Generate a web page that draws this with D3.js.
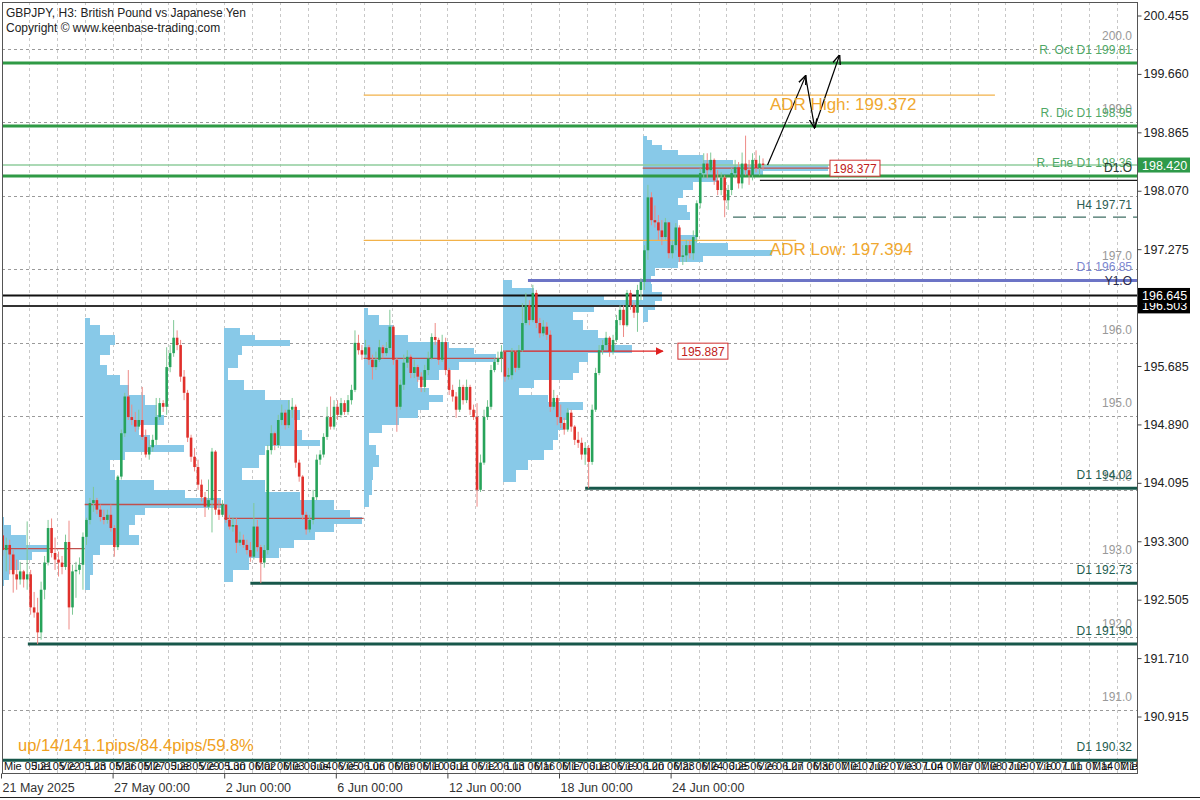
<!DOCTYPE html>
<html><head><meta charset="utf-8">
<script src="https://cdnjs.cloudflare.com/ajax/libs/d3/7.8.5/d3.min.js"></script>
<style>body{margin:0;background:#fff}svg{display:block}text{font-family:"Liberation Sans",Arial,sans-serif}</style>
</head><body><svg id="c" width="1200" height="800"></svg>
<script>
// ---------------- DATA ----------------
const firstOpen = 193.38;
const closes = [
193.18,193.25,193.12,192.85,192.78,192.89,192.78,192.85,192.40,192.33,
192.06,192.64,193.01,193.48,193.14,193.05,193.01,192.95,193.29,192.40,
192.89,192.91,192.98,193.36,193.59,193.82,193.86,193.73,193.63,193.59,
193.66,193.48,193.22,194.18,194.77,195.27,194.99,194.95,194.86,194.95,
194.72,194.48,194.58,194.68,194.99,195.18,195.13,195.67,195.86,196.07,
195.97,195.54,195.32,194.71,194.45,194.31,194.07,193.90,193.77,193.86,
194.52,193.73,193.66,193.80,193.59,193.50,193.52,193.28,193.32,193.25,
193.18,193.09,193.50,193.22,193.01,193.18,194.54,194.77,194.61,194.95,
195.05,194.88,195.09,195.13,194.37,194.18,193.66,193.46,193.59,193.90,
194.41,194.48,194.72,194.99,194.86,195.13,195.02,195.18,195.06,195.22,
195.36,196.00,195.90,195.84,195.94,195.77,195.67,195.77,195.94,195.86,
195.93,196.22,195.77,195.13,195.43,195.73,195.81,195.59,195.67,195.54,
195.40,195.63,195.79,196.08,196.04,195.77,196.01,195.63,195.36,195.27,
195.09,195.40,195.22,195.40,195.09,194.99,194.00,194.37,194.99,195.13,
195.63,195.74,195.79,195.88,195.54,195.56,195.88,195.66,195.90,196.27,
196.51,196.31,196.68,196.27,196.13,196.22,196.11,195.13,195.25,194.99,
194.91,194.82,195.05,194.86,194.68,194.64,194.48,194.57,194.38,195.09,
195.59,195.90,195.97,196.07,195.88,196.04,196.31,196.45,196.24,196.68,
196.51,196.41,196.72,196.83,197.26,197.98,197.67,197.64,197.53,197.44,
197.64,197.22,197.33,197.57,197.17,197.19,197.33,197.22,197.44,197.90,
198.31,198.44,198.35,198.49,198.21,198.08,198.25,197.94,198.08,198.31,
198.39,198.17,198.44,198.35,198.28,198.49,198.38,198.44,198.42];
const highs = [
193.46,193.35,193.32,193.18,193.05,193.02,192.91,193.57,192.91,192.61,
192.53,192.75,193.10,193.59,193.61,193.35,193.16,193.10,193.39,193.58,
192.98,193.02,193.08,193.42,193.62,193.89,194.04,193.89,193.80,193.73,
193.73,193.80,193.52,194.20,194.82,195.32,195.63,195.16,195.06,195.09,
195.40,194.82,194.68,194.75,195.25,195.25,195.22,195.94,195.97,196.31,
196.17,196.04,195.63,195.36,194.75,194.57,194.41,194.14,193.97,194.14,
194.57,194.54,193.86,193.86,193.76,193.66,193.62,193.62,193.43,193.39,
193.32,193.29,193.82,193.59,193.25,193.25,194.61,194.88,194.79,195.02,
195.16,195.09,195.22,195.25,195.16,194.41,194.20,193.70,193.66,194.00,
194.48,194.54,194.77,195.13,195.27,195.22,195.22,195.25,195.22,195.29,
195.43,196.17,196.11,195.97,196.04,195.97,195.84,195.88,196.04,195.97,
196.01,196.45,196.24,195.80,195.50,195.84,195.90,195.84,195.77,195.70,
195.60,195.70,195.88,196.13,196.27,196.07,196.11,196.07,195.66,195.43,
195.33,195.50,195.43,195.50,195.43,195.16,195.18,194.48,195.09,195.22,
195.70,195.79,195.88,195.97,195.90,195.66,195.93,195.90,195.97,196.54,
196.68,196.58,196.79,196.72,196.34,196.31,196.28,196.17,195.36,195.29,
195.16,194.98,195.11,195.09,194.88,194.79,194.71,194.65,194.61,195.16,
195.66,195.97,196.04,196.15,196.09,196.11,196.38,196.51,196.51,196.72,
196.72,196.55,196.79,196.88,197.33,198.15,198.05,197.87,197.74,197.67,
197.70,197.60,197.40,197.63,197.60,197.33,197.40,197.40,197.53,197.94,
198.38,198.58,198.58,198.59,198.51,198.35,198.32,198.28,198.15,198.38,
198.49,198.46,198.59,198.82,198.49,198.58,198.62,198.55,198.51];
const lows = [
193.10,192.89,192.85,192.60,192.64,192.71,192.67,192.64,192.30,192.26,
191.90,191.96,192.51,192.97,193.08,192.91,192.82,192.85,192.91,192.10,
192.30,192.53,192.85,192.64,193.25,193.53,193.70,193.67,193.57,193.53,
193.54,193.43,193.09,193.18,194.14,194.72,194.95,194.88,194.79,194.82,
194.68,194.44,194.41,194.52,194.61,194.95,195.06,195.02,195.60,195.81,
195.90,195.47,195.22,194.65,194.38,194.25,194.00,193.84,193.63,193.73,
193.42,193.66,193.59,193.63,193.55,193.46,193.43,193.14,193.24,193.21,
193.12,193.02,193.05,193.16,192.73,192.94,193.12,194.48,194.54,194.57,
194.88,194.82,194.84,194.98,194.30,194.11,193.59,193.39,193.42,193.53,
193.86,194.34,194.44,194.68,194.82,194.82,194.95,194.98,195.02,195.02,
195.16,195.33,195.84,195.77,195.79,195.70,195.50,195.63,195.74,195.79,
195.82,195.90,195.70,194.79,195.09,195.36,195.66,195.52,195.52,195.47,
195.33,195.33,195.56,195.77,195.97,195.70,195.74,195.56,195.29,195.20,
194.98,195.06,195.16,195.18,195.02,194.95,193.77,193.97,194.34,194.95,
195.09,195.60,195.70,195.60,195.47,195.50,195.50,195.60,195.63,195.88,
196.24,196.24,196.28,196.20,196.07,196.09,196.04,195.06,195.09,194.88,
194.84,194.75,194.79,194.79,194.61,194.57,194.41,194.34,194.02,194.34,
195.06,195.56,195.84,195.90,195.81,195.84,196.01,196.24,196.08,196.22,
196.45,196.34,196.15,196.58,196.72,197.13,197.60,197.57,197.40,197.33,
197.40,197.15,197.15,197.26,197.10,197.06,197.10,197.15,197.13,197.37,
197.83,198.24,198.24,198.32,198.15,198.01,198.01,197.71,197.81,198.01,
198.24,198.10,198.10,198.28,198.15,198.21,198.32,198.28,198.35];

// volume profiles: [price edge, volume] ; last entry closes the profile
const profile1 = [[193.63,2],[193.52,7],[193.39,18],[193.25,34],[193.16,22],[193.05,13],[192.91,6],[192.78,2],[192.70,0]];
const profile2 = [[196.34,4],[196.24,11],[196.11,22],[195.97,18],[195.84,11],[195.70,16],[195.56,25],[195.43,32],[195.29,43],[195.16,52],[195.02,57],[194.88,39],[194.75,47],[194.61,71],[194.52,29],[194.41,18],[194.27,22],[194.14,50],[194.00,72],[193.89,98],[193.76,43],[193.66,36],[193.52,32],[193.39,39],[193.25,11],[193.12,6],[192.85,4],[192.64,0]];
const profile3 = [[196.20,11],[196.11,22],[196.04,47],[195.96,13],[195.84,10],[195.66,3],[195.50,14],[195.36,29],[195.22,47],[195.09,54],[194.95,50],[194.82,56],[194.68,69],[194.60,29],[194.48,25],[194.30,13],[194.14,29],[193.97,54],[193.86,79],[193.73,90],[193.63,99],[193.54,79],[193.43,65],[193.32,50],[193.21,39],[193.08,18],[192.91,6],[192.75,0]];
const profile4 = [[196.47,3],[196.38,11],[196.24,22],[196.11,32],[196.01,61],[195.93,79],[195.85,95],[195.74,68],[195.63,54],[195.50,39],[195.39,47],[195.29,57],[195.20,47],[195.09,39],[194.98,25],[194.88,13],[194.78,4],[194.61,9],[194.48,11],[194.31,7],[194.14,6],[193.93,4],[193.77,0]];
const profile5 = [[196.85,6],[196.75,22],[196.65,72],[196.58,104],[196.50,65],[196.42,50],[196.31,57],[196.17,68],[196.07,75],[195.97,92],[195.86,61],[195.74,54],[195.60,50],[195.50,22],[195.39,11],[195.29,32],[195.20,57],[195.09,47],[194.95,43],[194.82,39],[194.68,36],[194.54,29],[194.41,18],[194.27,9],[194.11,0]];
const profile6 = [[198.82,3],[198.76,7],[198.69,14],[198.62,25],[198.55,43],[198.49,65],[198.42,133],[198.34,86],[198.27,54],[198.19,36],[198.08,29],[197.98,25],[197.87,32],[197.78,34],[197.67,25],[197.56,27],[197.47,39],[197.36,61],[197.26,93],[197.18,43],[197.10,25],[197.02,9],[196.91,6],[196.80,7],[196.69,14],[196.58,9],[196.45,4],[196.29,0]];
const profileStarts = [0,24,64,104,144,184];
const pocPrices = [193.20,193.80,193.61,195.79,195.887,198.377];
const pocEnds = [24,64,104,144,189.8,237.5];

// horizontal levels
const resLevels = [199.81,198.95];
const resLabels = ["R. Oct D1 199.81","R. Dic D1 198.95"];
const supLevels = [194.02,192.73,191.90,190.32];
const supLabels = ["D1 194.02","D1 192.73","D1 191.90","D1 190.32"];
const supStarts = [167.5,71.5,7.7,0];
const roundLevels = [200,199,198,197,196,195,194,193,192,191];
const roundLabels = ["200.0","199.0","","197.0","196.0","195.0","194.0","193.0","192.0","191.0"];
const bidPrice = 198.42, d1Open = 198.27, d1OpenBlack = 198.21, h4Level = 197.71, y1Open = 196.85;
const blackLevels = [196.645,196.503];
const adrHigh = 199.372, adrLow = 197.394;

// axes
const yTicks = [200.455,199.660,198.865,198.070,197.275,196.480,195.685,194.890,194.095,193.300,192.505,191.710,190.915];
const xTickBars = [0,32,64,96,128,160,192];
const xTickLabels = ["21 May 2025","27 May 00:00","2 Jun 00:00","6 Jun 00:00","12 Jun 00:00","18 Jun 00:00","24 Jun 00:00"];
const dayLabels = ["Mie 05.21","Jue 05.22","Vie 05.23","Lun 05.26","Mar 05.27","Mie 05.28","Jue 05.29","Vie 05.30","Lun 06.02","Mar 06.03","Mie 06.04","Jue 06.05","Vie 06.06","Lun 06.09","Mar 06.10","Mie 06.11","Jue 06.12","Vie 06.13","Lun 06.16","Mar 06.17","Mie 06.18","Jue 06.19","Vie 06.20","Lun 06.23","Mar 06.24","Mie 06.25","Jue 06.26","Vie 06.27","Lun 06.30","Mar 07.01","Mie 07.02","Jue 07.03","Vie 07.04","Lun 07.07","Mar 07.08","Mie 07.09","Jue 07.10","Vie 07.11","Lun 07.14","Mar 07.15","Mie 07.16"];
// projection arrows [bar, price]
const arrowPath = [[219.8,198.42],[230.7,199.63],[233.3,198.93],[240.4,199.91]];

// ---------------- DRAW ----------------
const svg = d3.select("#c");
const P = {l:2,t:2,r:1137,b:773};
const x = d3.scaleLinear().domain([0,320]).range([1,1117]);
const y = d3.scaleLinear().domain([190.915,200.455]).range([716.5,15.5]);
const vScale = d3.scaleLinear().domain([0,100]).range([0,x(40)-x(0)]);

const defs = svg.append("defs");
defs.append("clipPath").attr("id","clip").append("rect")
  .attr("x",P.l).attr("y",P.t).attr("width",P.r-P.l).attr("height",P.b-P.t);
defs.append("marker").attr("id","ah").attr("viewBox","0 0 10 10").attr("refX",9).attr("refY",5)
  .attr("markerWidth",8).attr("markerHeight",8).attr("orient","auto-start-reverse")
  .append("path").attr("d","M0,1 L10,5 L0,9").attr("fill","none").attr("stroke","#000").attr("stroke-width",1.4);
defs.append("marker").attr("id","rh").attr("viewBox","0 0 10 10").attr("refX",9).attr("refY",5)
  .attr("markerWidth",6).attr("markerHeight",6).attr("orient","auto")
  .append("path").attr("d","M0,0 L10,5 L0,10 Z").attr("fill","#e02020");

const g = svg.append("g").attr("clip-path","url(#clip)");

// vertical grid
g.append("g").selectAll("line").data(d3.range(1,41)).join("line")
  .attr("x1",d=>Math.round(x(d*8))+0.5).attr("x2",d=>Math.round(x(d*8))+0.5)
  .attr("y1",P.t).attr("y2",P.b).attr("stroke","#c8c8c8").attr("stroke-dasharray","3,3");

// round level dashed lines
g.append("g").selectAll("line").data(roundLevels).join("line")
  .attr("x1",P.l).attr("x2",P.r).attr("y1",d=>Math.round(y(d))+0.5).attr("y2",d=>Math.round(y(d))+0.5)
  .attr("stroke","#9a9a9a").attr("stroke-dasharray","3,3");

// profiles
const profiles = [profile1,profile2,profile3,profile4,profile5,profile6];
profiles.forEach((pr,pi)=>{
  const x0 = x(profileStarts[pi]);
  g.append("g").selectAll("rect").data(pr.slice(0,-1)).join("rect")
    .attr("x",x0).attr("y",(d)=>y(d[0]))
    .attr("height",(d,k)=>y(pr[k+1][0])-y(d[0])+0.3)
    .attr("width",d=>vScale(d[1]))
    .attr("fill","#88c9e8").attr("shape-rendering","crispEdges");
});

// ADR lines
g.append("line").attr("x1",x(104)).attr("x2",x(285)).attr("y1",y(adrHigh)).attr("y2",y(adrHigh)).attr("stroke","#f2b24a").attr("stroke-width",1.2);
g.append("line").attr("x1",x(104)).attr("x2",x(228)).attr("y1",y(adrLow)).attr("y2",y(adrLow)).attr("stroke","#f2b24a").attr("stroke-width",1.2);

// POC lines
pocPrices.forEach((p,i)=>{
  const isArrow = i===4;
  g.append("line").attr("x1",x(profileStarts[i])).attr("x2",x(pocEnds[i]))
    .attr("y1",y(p)).attr("y2",y(p))
    .attr("stroke",isArrow?"#e02020":"#c0504d").attr("stroke-width",1.3)
    .attr("marker-end",isArrow?"url(#rh)":null);
});

// resistance lines
g.append("g").selectAll("line").data(resLevels).join("line")
  .attr("x1",P.l).attr("x2",P.r).attr("y1",d=>y(d)).attr("y2",d=>y(d)).attr("stroke","#2f9a45").attr("stroke-width",3);
// bid line
g.append("line").attr("x1",P.l).attr("x2",P.r).attr("y1",y(bidPrice)).attr("y2",y(bidPrice)).attr("stroke","#8fcc9c").attr("stroke-width",1.5);
// D1 open
g.append("line").attr("x1",P.l).attr("x2",P.r).attr("y1",y(d1Open)).attr("y2",y(d1Open)).attr("stroke","#2f9a45").attr("stroke-width",3);
g.append("line").attr("x1",x(217.6)).attr("x2",P.r).attr("y1",y(d1OpenBlack)).attr("y2",y(d1OpenBlack)).attr("stroke","#1a1a1a").attr("stroke-width",1.2);
// H4 dashed
g.append("line").attr("x1",x(209.9)).attr("x2",P.r).attr("y1",y(h4Level)).attr("y2",y(h4Level)).attr("stroke","#3f6f64").attr("stroke-width",1.3).attr("stroke-dasharray","13,7");
// Y1 open
g.append("line").attr("x1",x(151.1)).attr("x2",P.r).attr("y1",y(y1Open)).attr("y2",y(y1Open)).attr("stroke","#6c74c6").attr("stroke-width",3);
// black levels
g.append("g").selectAll("line").data(blackLevels).join("line")
  .attr("x1",P.l).attr("x2",P.r).attr("y1",d=>y(d)).attr("y2",d=>y(d))
  .attr("stroke",(d,i)=>i?"#333":"#111").attr("stroke-width",2);
// supports
g.append("g").selectAll("line").data(supLevels).join("line")
  .attr("x1",(d,i)=>x(supStarts[i])).attr("x2",P.r).attr("y1",d=>y(d)).attr("y2",d=>y(d))
  .attr("stroke","#17574a").attr("stroke-width",3);

// candles
const candles = closes.map((c,i)=>({i,o:i?closes[i-1]:firstOpen,c,h:highs[i],l:lows[i]}));
const cg = g.append("g");
cg.selectAll("line").data(candles).join("line")
  .attr("x1",d=>x(d.i+0.5)).attr("x2",d=>x(d.i+0.5))
  .attr("y1",d=>y(Math.max(d.h,d.o,d.c))).attr("y2",d=>y(Math.min(d.l,d.o,d.c)))
  .attr("stroke",d=>d.c>=d.o?"#7fc896":"#ee8a86").attr("stroke-width",1);
cg.selectAll("rect").data(candles).join("rect")
  .attr("x",d=>x(d.i+0.5)-1.3).attr("width",2.6)
  .attr("y",d=>y(Math.max(d.o,d.c)))
  .attr("height",d=>Math.max(1,Math.abs(y(d.o)-y(d.c))))
  .attr("fill",d=>d.c>=d.o?"#27a35a":"#e0302b");

// projection arrows
const ln = d3.line().x(d=>x(d[0])).y(d=>y(d[1]));
g.append("path").attr("d",ln(arrowPath.slice(0,2))).attr("stroke","#000").attr("fill","none").attr("stroke-width",1.2).attr("marker-end","url(#ah)");
g.append("path").attr("d",ln(arrowPath.slice(1,3))).attr("stroke","#000").attr("fill","none").attr("stroke-width",1.2).attr("marker-end","url(#ah)");
g.append("path").attr("d",ln(arrowPath.slice(2,4))).attr("stroke","#000").attr("fill","none").attr("stroke-width",1.2).attr("marker-end","url(#ah)");

// POC boxes
function box(bar,price,txt){
  const bx=x(bar), by=y(price);
  g.append("rect").attr("x",bx).attr("y",by-8).attr("width",50).attr("height",16).attr("fill","#fff").attr("stroke","#d03030");
  g.append("text").attr("x",bx+25).attr("y",by+4.5).attr("text-anchor","middle").attr("font-size",12).attr("fill","#c02020").text(txt);
}
box(194.1,195.887,"195.887");
box(237.7,198.377,"198.377");

// ADR labels
g.append("text").attr("x",x(220.5)).attr("y",y(adrHigh)+15).attr("font-size",17).attr("fill","#f0a830").text("ADR High: 199.372");
g.append("text").attr("x",x(220.5)).attr("y",y(adrLow)+15).attr("font-size",17).attr("fill","#f0a830").text("ADR Low: 197.394");

// right-side labels
const lab = g.append("g").attr("text-anchor","end").attr("font-size",12);
roundLevels.forEach((p,i)=>{ if(roundLabels[i]) lab.append("text").attr("x",1132).attr("y",y(p)-9).attr("fill","#999").text(roundLabels[i]); });
resLevels.forEach((p,i)=>lab.append("text").attr("x",1132).attr("y",y(p)-9).attr("fill","#4fa866").text(resLabels[i]));
lab.append("text").attr("x",1132).attr("y",y(198.36)-2).attr("fill","#4fa866").text("R. Ene D1 198.36");
lab.append("text").attr("x",1132).attr("y",y(d1Open)-4).attr("fill","#2a3a30").text("D1.O");
lab.append("text").attr("x",1132).attr("y",y(h4Level)-8).attr("fill","#2d5e55").text("H4 197.71");
lab.append("text").attr("x",1132).attr("y",y(y1Open)-9).attr("fill","#7b86d0").text("D1 196.85");
lab.append("text").attr("x",1132).attr("y",y(y1Open)+4.5).attr("fill","#2a2a4a").text("Y1.O");
supLevels.forEach((p,i)=>lab.append("text").attr("x",1132).attr("y",y(p)-9).attr("fill","#1e5e50").text(supLabels[i]));

// stats text
g.append("text").attr("x",18).attr("y",751).attr("font-size",16.5).attr("fill","#f0a020").text("up/14/141.1pips/84.4pips/59.8%");

// day labels row
g.append("g").selectAll("text").data(dayLabels).join("text")
  .attr("x",(d,i)=>x(i*8)+3).attr("y",770).attr("font-size",11)
  .attr("font-family","'DejaVu Sans Condensed','Liberation Sans Narrow','Liberation Sans',sans-serif")
  .attr("fill","#111").text(d=>d);

// frame
svg.append("rect").attr("x",P.l+0.5).attr("y",P.t+0.5).attr("width",P.r-P.l).attr("height",P.b-P.t)
  .attr("fill","none").attr("stroke","#555");

// right axis
const ya = svg.append("g").attr("transform",`translate(${P.r+0.5},0)`)
  .call(d3.axisRight(y).tickValues(yTicks).tickFormat(d3.format(".3f")).tickSize(4).tickPadding(2));
ya.select(".domain").remove();
ya.selectAll("line").attr("stroke","#444");
ya.selectAll("text").attr("font-size",12.5).attr("fill","#222").attr("font-family","'Liberation Sans',Arial,sans-serif");

// bottom axis
const xa = svg.append("g").attr("transform",`translate(0,${P.b+0.5})`)
  .call(d3.axisBottom(x).tickValues(xTickBars).tickFormat((d,i)=>xTickLabels[i]).tickSize(5).tickPadding(5));
xa.select(".domain").remove();
xa.selectAll("line").attr("stroke","#444");
xa.selectAll("text").attr("text-anchor","start").attr("dx",1).attr("font-size",12.5).attr("fill","#333").attr("font-family","'Liberation Sans',Arial,sans-serif");

// price boxes on axis
function pbox(price,txt,bg){
  const by=y(price);
  svg.append("rect").attr("x",1138).attr("y",by-7.5).attr("width",52).attr("height",15).attr("fill",bg);
  svg.append("text").attr("x",1142).attr("y",by+4.5).attr("font-size",12.5).attr("fill","#fff").text(txt);
}
pbox(196.503,"196.503","#000");
pbox(196.645,"196.645","#000");
pbox(bidPrice,"198.420","#2e9a4a");

// title
svg.append("text").attr("x",6).attr("y",16.5).attr("font-size",12).attr("fill","#222").text("GBPJPY, H3:  British Pound vs Japanese Yen");
svg.append("text").attr("x",6).attr("y",31.5).attr("font-size",12).attr("fill","#222").text("Copyright © www.keenbase-trading.com");

// window bottom edge
svg.append("line").attr("x1",0).attr("x2",1200).attr("y1",797.5).attr("y2",797.5).attr("stroke","#222");
</script></body></html>
